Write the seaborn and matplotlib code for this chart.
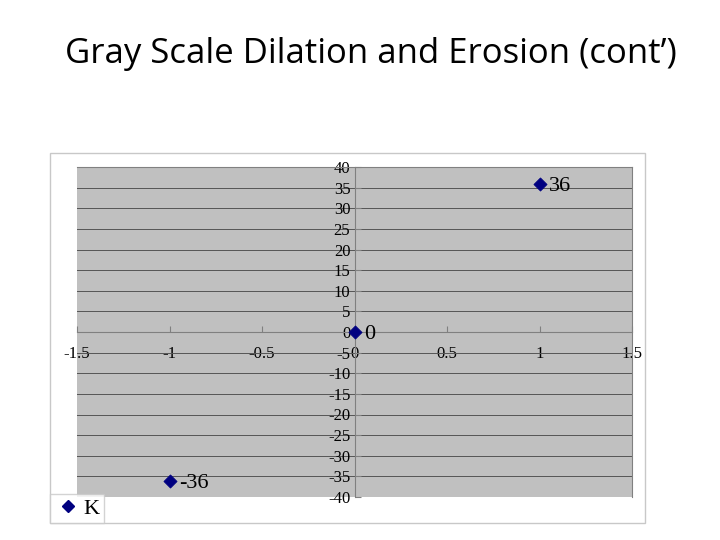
import matplotlib
matplotlib.use("Agg")
import matplotlib.pyplot as plt
import matplotlib.patches as mpatches
import seaborn as sns
import pandas as pd
import numpy as np

x_vals = [-1, 0, 1]
y_vals = [-36, 0, 36]
point_labels = ["-36", "0", "36"]
series_name = "K"

df = pd.DataFrame({"x": x_vals, "y": y_vals, "s": series_name})

fig = plt.figure(figsize=(7.2, 5.4), dpi=100)
fig.text(0.515, 0.9, "Gray Scale Dilation and Erosion (cont\u2019)",
         ha="center", va="center", fontsize=25, family="Open Sans")

# outer chart frame
fig.patches.append(mpatches.Rectangle((50 / 720, 1 - 523 / 540), 595 / 720, 370 / 540,
                                      transform=fig.transFigure, fill=False,
                                      edgecolor="#c8c8c8", lw=1))

ax = fig.add_axes([77 / 720, 1 - 497 / 540, 555 / 720, 330 / 540])
ax.set_facecolor("#c0c0c0")
sns.scatterplot(data=df, x="x", y="y", marker="D", s=45, color="#000080",
                edgecolor="#000080", ax=ax, legend=False, zorder=5)
ax.set_xlim(-1.5, 1.5)
ax.set_ylim(-40, 40)
ax.set_xticks(np.arange(-1.5, 1.51, 0.5))
ax.set_yticks(np.arange(-40, 41, 5))
ax.set_xticklabels(["-1.5", "-1", "-0.5", "0", "0.5", "1", "1.5"])
ax.set_yticklabels([str(v) for v in range(-40, 41, 5)])
ax.grid(axis="y", color="#555555", lw=0.7)
ax.grid(axis="x", visible=False)
ax.set_axisbelow(True)
for side in ["left", "bottom"]:
    ax.spines[side].set_position("zero")
    ax.spines[side].set_color("#808080")
ax.spines["top"].set_color("#808080")
ax.spines["right"].set_color("#808080")
ax.tick_params(labelsize=12, direction="in", length=4, colors="#808080",
               labelcolor="black")
ax.tick_params(axis="x", pad=10)
ax.tick_params(axis="y", pad=3)
for t in ax.get_xticklabels() + ax.get_yticklabels():
    t.set_family("Liberation Serif")
ax.set_xlabel("")
ax.set_ylabel("")

for xv, yv, lab in zip(x_vals, y_vals, point_labels):
    ax.annotate(lab, (xv, yv), xytext=(7, -2), textcoords="offset points",
                va="center", ha="left", fontsize=16, family="Liberation Serif")

# legend
handle = plt.Line2D([], [], marker="D", color="#000080", ls="", markersize=6)
fig.legend([handle], [series_name], loc="lower left",
           bbox_to_anchor=(50 / 720, 1 - 523 / 540), frameon=True, fancybox=False,
           edgecolor="#c8c8c8", prop={"family": "Liberation Serif", "size": 16},
           handletextpad=0.1, borderpad=0.2, handlelength=1.2, borderaxespad=0)

fig.savefig("out.png", dpi=100)
